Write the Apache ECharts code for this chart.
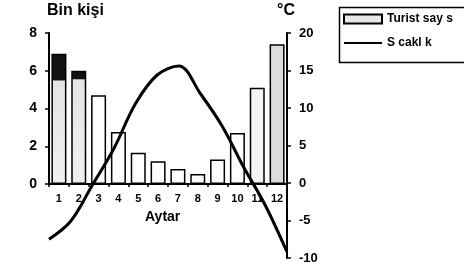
<!DOCTYPE html>
<html>
<head>
<meta charset="utf-8">
<script src="https://cdn.jsdelivr.net/npm/echarts@6/dist/echarts.min.js"></script>
<style>
  html, body { margin: 0; padding: 0; background: #fff; }
  #chart { width: 464px; height: 271px; }
</style>
</head>
<body>
<div id="chart"></div>
<script>
// aylar ve degerler
var months = ['1', '2', '3', '4', '5', '6', '7', '8', '9', '10', '11', '12'];
var tourists = [6.9, 6.0, 4.7, 2.75, 1.65, 1.2, 0.8, 0.53, 1.3, 2.7, 5.1, 7.4]; // bin kisi
var temperature = [-7.5, -5.1, -0.3, 4.6, 10.6, 14.4, 15.6, 11.9, 7.6, 2.1, -3.0, -9.2]; // °C
var seriesNames = ['Turist say s', 'S cakl k'];

var font = 'Liberation Sans';

// bar fills (stippled look approximated with greys)
function barFill(i) {
    if (i === 0) {
        return new echarts.graphic.LinearGradient(0, 0, 0, 1, [
            { offset: 0, color: '#111' }, { offset: 0.2, color: '#111' },
            { offset: 0.21, color: '#e4e4e4' }, { offset: 1, color: '#f0f0f0' }
        ]);
    }
    if (i === 1) {
        return new echarts.graphic.LinearGradient(0, 0, 0, 1, [
            { offset: 0, color: '#111' }, { offset: 0.07, color: '#111' },
            { offset: 0.08, color: '#e4e4e4' }, { offset: 1, color: '#f0f0f0' }
        ]);
    }
    if (i === 11) return '#dcdcdc';
    if (i === 10) return '#f4f4f4';
    return '#fff';
}

var barData = tourists.map(function (v, i) {
    return { value: v, itemStyle: { color: barFill(i) } };
});

var chart = echarts.init(document.getElementById('chart'));
chart.setOption({
    animation: false,
    backgroundColor: '#fff',
    grid: [
        { left: 49, right: 177, top: 33, height: 151 },
        { left: 49, right: 177, top: 33, height: 225 }
    ],
    legend: {
        orient: 'vertical',
        left: 343,
        top: 13,
        padding: 0,
        itemWidth: 38,
        itemHeight: 9,
        itemGap: 12,
        symbolKeepAspect: true,
        data: [
            { name: seriesNames[0], icon: 'rect' },
            { name: seriesNames[1], icon: 'path://M0,0h38v2h-38z' }
        ],
        textStyle: { fontFamily: font, fontSize: 12, fontWeight: 'bold', color: '#000' }
    },
    xAxis: [
        {
            type: 'category',
            gridIndex: 0,
            data: months,
            axisLine: { lineStyle: { color: '#000', width: 2 } },
            axisTick: { show: true, length: 3, lineStyle: { color: '#000', width: 1.5 } },
            axisLabel: { interval: 0, margin: 9, color: '#000', fontFamily: font, fontSize: 11, fontWeight: 'bold' }
        },
        {
            type: 'category',
            gridIndex: 1,
            data: months,
            boundaryGap: false,
            show: false
        }
    ],
    yAxis: [
        {
            type: 'value',
            gridIndex: 0,
            min: 0,
            max: 8,
            interval: 2,
            axisLine: { show: true, lineStyle: { color: '#000', width: 2 } },
            axisTick: { show: true, length: 4, lineStyle: { color: '#000', width: 1.5 } },
            splitLine: { show: false },
            axisLabel: { margin: 12, color: '#000', fontFamily: font, fontSize: 14, fontWeight: 'bold' }
        },
        {
            type: 'value',
            gridIndex: 1,
            position: 'right',
            min: -10,
            max: 20,
            interval: 5,
            axisLine: { show: true, lineStyle: { color: '#000', width: 2 } },
            axisTick: { show: true, length: 4, lineStyle: { color: '#000', width: 1.5 } },
            splitLine: { show: false },
            axisLabel: { margin: 12, color: '#000', fontFamily: font, fontSize: 13, fontWeight: 'bold' }
        }
    ],
    series: [
        {
            name: seriesNames[0],
            type: 'bar',
            xAxisIndex: 0,
            yAxisIndex: 0,
            barWidth: 15,
            data: barData,
            itemStyle: { color: '#e8e8e8', borderColor: '#000', borderWidth: 1.5 }
        },
        {
            name: seriesNames[1],
            type: 'line',
            xAxisIndex: 1,
            yAxisIndex: 1,
            data: temperature,
            smooth: 0.35,
            symbol: 'none',
            z: 5,
            lineStyle: { color: '#000', width: 3 },
            itemStyle: { color: '#000' }
        }
    ],
    graphic: [
        {
            type: 'text', left: 47, top: 3,
            style: { text: 'Bin kişi', font: 'bold 16px "Liberation Sans"', fill: '#000' }
        },
        {
            type: 'text', left: 277, top: 3,
            style: { text: '°C', font: 'bold 16px "Liberation Sans"', fill: '#000' }
        },
        {
            type: 'text', left: 145, top: 210,
            style: { text: 'Aytar', font: 'bold 14px "Liberation Sans"', fill: '#000' }
        },
        {
            type: 'rect', left: 337, top: 5,
            shape: { width: 140, height: 55 },
            style: { fill: 'none', stroke: '#000', lineWidth: 1.5 }
        }
    ]
});
</script>
</body>
</html>
